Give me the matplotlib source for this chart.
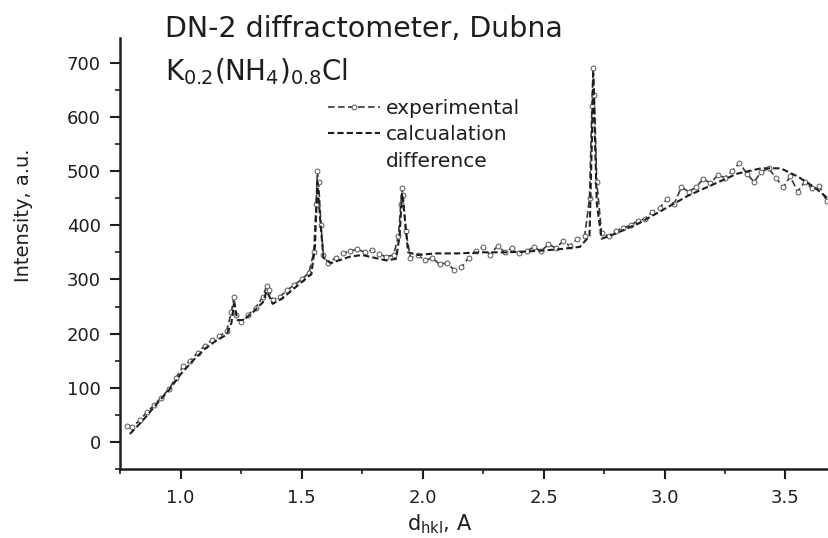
import matplotlib
matplotlib.use("Agg")
import matplotlib.pyplot as plt
from matplotlib.lines import Line2D
from matplotlib.ticker import MultipleLocator

# ---- data ----
exp_x = [0.78, 0.80, 0.83, 0.86, 0.89, 0.92, 0.95, 0.98, 1.01, 1.04, 1.07, 1.10, 1.13, 1.16, 1.19,
         1.21, 1.22, 1.23, 1.25, 1.28, 1.31, 1.34, 1.355, 1.365, 1.38, 1.41, 1.44, 1.47, 1.50, 1.53,
         1.55, 1.56, 1.565, 1.57, 1.58, 1.59, 1.61, 1.64, 1.67, 1.70, 1.73, 1.76, 1.79, 1.82, 1.85,
         1.88, 1.90, 1.91, 1.915, 1.92, 1.93, 1.95, 1.98, 2.01, 2.04, 2.07, 2.10, 2.13, 2.16, 2.19,
         2.22, 2.25, 2.28, 2.31, 2.34, 2.37, 2.40, 2.43, 2.46, 2.49, 2.52, 2.55, 2.58, 2.61, 2.64,
         2.67, 2.69, 2.70, 2.705, 2.71, 2.72, 2.74, 2.77, 2.80, 2.83, 2.86, 2.89, 2.92, 2.95, 2.98,
         3.01, 3.04, 3.07, 3.10, 3.13, 3.16, 3.19, 3.22, 3.25, 3.28, 3.31, 3.34, 3.37, 3.40, 3.43,
         3.46, 3.49, 3.52, 3.55, 3.58, 3.61, 3.64, 3.67, 3.70]
exp_y = [30, 28, 40, 55, 68, 82, 97, 118, 140, 150, 165, 178, 188, 195, 205,
         240, 268, 235, 222, 235, 248, 268, 288, 280, 262, 268, 280, 290, 300, 312,
         350, 440, 500, 480, 400, 345, 330, 340, 348, 352, 356, 350, 354, 346, 342,
         345, 380, 440, 468, 455, 390, 340, 345, 335, 340, 328, 330, 318, 322, 340,
         352, 360, 345, 362, 350, 358, 348, 352, 360, 352, 365, 358, 370, 362, 375,
         380, 450, 620, 690, 640, 480, 385, 380, 390, 395, 400, 408, 412, 425, 432,
         448, 440, 470, 462, 470, 485, 478, 492, 488, 500, 515, 495, 480, 498, 505,
         488, 470, 490, 462, 480, 468, 472, 445, 430]

calc_x = [0.79, 0.84, 0.90, 0.95, 1.00, 1.05, 1.10, 1.15, 1.19, 1.21, 1.22, 1.235, 1.26, 1.30, 1.34,
          1.355, 1.365, 1.38, 1.42, 1.46, 1.50, 1.54, 1.555, 1.565, 1.575, 1.59, 1.62, 1.66, 1.70,
          1.75, 1.80, 1.85, 1.89, 1.905, 1.915, 1.925, 1.94, 1.98, 2.05, 2.15, 2.25, 2.35, 2.45,
          2.55, 2.65, 2.69, 2.70, 2.705, 2.71, 2.72, 2.74, 2.80, 2.90, 3.00, 3.10, 3.20, 3.30,
          3.40, 3.48, 3.55, 3.62, 3.70]
calc_y = [15, 38, 70, 95, 125, 150, 172, 188, 198, 220, 255, 225, 225, 240, 258,
          278, 270, 255, 265, 280, 295, 310, 360, 480, 420, 340, 330, 336, 342,
          345, 340, 335, 338, 380, 460, 420, 350, 345, 348, 348, 350, 350, 352,
          355, 360, 380, 560, 680, 600, 440, 375, 385, 405, 430, 455, 475, 495,
          505, 505, 490, 470, 440]

x_ticks = [1.0, 1.5, 2.0, 2.5, 3.0, 3.5]
y_ticks = [0, 100, 200, 300, 400, 500, 600, 700]
legend_labels = ["experimental", "calcualation", "difference"]

plt.rcParams['font.family'] = ['DejaVu Sans']
plt.rcParams['mathtext.fontset'] = 'dejavusans'

fig = plt.figure(figsize=(8.29, 5.38), dpi=100)
ax = fig.add_axes([0.145, 0.128, 0.855, 0.801])

ink = "#1e1e1e"
exp_style = dict(linestyle=(0, (4, 2)), color="#3a3a3a", lw=1.2,
                 marker="o", markersize=3.5, markerfacecolor="white",
                 markeredgecolor="#555555", markeredgewidth=0.7)
calc_style = dict(linestyle=(0, (3, 1.5)), color=ink, lw=1.5)
ax.plot(exp_x, exp_y, **exp_style)
ax.plot(calc_x, calc_y, **calc_style)

ax.set_xlim(0.75, 3.68)
ax.set_ylim(-50, 745)
ax.set_xticks(x_ticks)
ax.set_yticks(y_ticks)
ax.xaxis.set_minor_locator(MultipleLocator(0.25))
ax.yaxis.set_minor_locator(MultipleLocator(50))
ax.set_xticklabels([f"{v:.1f}" for v in x_ticks])
ax.tick_params(axis='both', which='major', direction='out', length=7, width=1.5,
               labelsize=13, colors=ink)
ax.tick_params(axis='y', which='major', pad=7)
ax.tick_params(axis='x', which='major', pad=7)
ax.tick_params(axis='both', which='minor', direction='out', length=3.5, width=1.2, colors=ink)
for s in ['top', 'right']:
    ax.spines[s].set_visible(False)
for s in ['left', 'bottom']:
    ax.spines[s].set_linewidth(1.8)
    ax.spines[s].set_color(ink)

ax.set_xlabel(r"d$_{\mathrm{hkl}}$, A", fontsize=15, color=ink)
ax.xaxis.set_label_coords(0.45, -0.1)
ax.set_ylabel("Intensity, a.u.", fontsize=14, color=ink)
ax.yaxis.set_label_coords(-0.123, 0.59)

fig.text(0.199, 0.931, "DN-2 diffractometer, Dubna", fontsize=20.5, color=ink, va='baseline')
fig.text(0.199, 0.851, r"K$_{0.2}$(NH$_4$)$_{0.8}$Cl", fontsize=20, color=ink, va='baseline')

handles = [
    Line2D([], [], **exp_style),
    Line2D([], [], **calc_style),
    Line2D([], [], color="none"),
]
leg = ax.legend(handles, legend_labels, loc='upper left', bbox_to_anchor=(0.383, 0.835),
                bbox_transform=fig.transFigure, frameon=False, fontsize=14.5,
                handlelength=2.6, handletextpad=0.3, labelspacing=0.38, borderpad=0,
                numpoints=1)
for t in leg.get_texts():
    t.set_color(ink)

fig.savefig("out.png", dpi=100)
